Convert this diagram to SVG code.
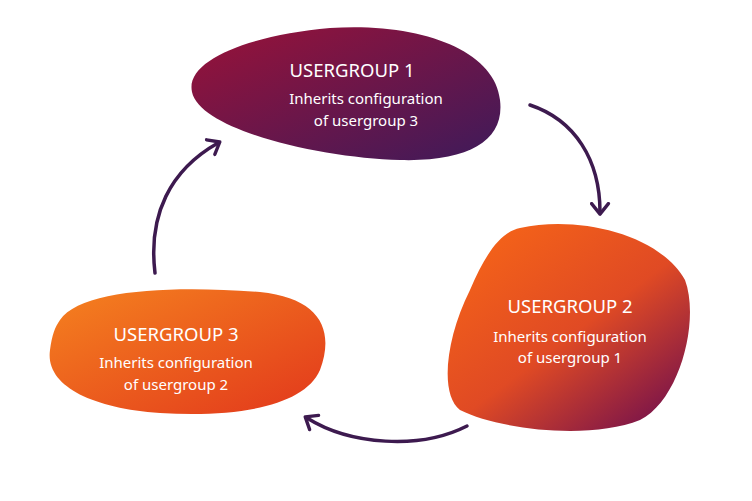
<svg xmlns="http://www.w3.org/2000/svg" width="752" height="501" viewBox="0 0 752 501">
<defs>
<linearGradient id="g1" x1="0" y1="0" x2="1" y2="1"><stop offset="0" stop-color="#9a1238"/><stop offset="1" stop-color="#3e1a5a"/></linearGradient>
<linearGradient id="g2" x1="0.2" y1="0.1" x2="0.9" y2="0.9"><stop offset="0" stop-color="#f2601a"/><stop offset="0.5" stop-color="#e04a24"/><stop offset="1" stop-color="#7e1648"/></linearGradient>
<linearGradient id="g3" x1="0" y1="0" x2="1" y2="1"><stop offset="0" stop-color="#f5821f"/><stop offset="1" stop-color="#e2381c"/></linearGradient>
<marker id="ah" viewBox="0 0 10 10" refX="5" refY="5" markerWidth="6" markerHeight="6" orient="auto-start-reverse"><path d="M1,1 L6,5 L1,9" fill="none" stroke="#3d1a4f" stroke-width="1.6" stroke-linecap="round" stroke-linejoin="round"/></marker>
<style>.t{font-family:"Noto Sans",sans-serif;fill:#fff;text-anchor:middle}.h{font-size:18.5px}.s{font-size:15px}.c{fill:none;stroke:#3d1a4f;stroke-width:3.5;stroke-linecap:round}</style>
</defs>
<g id="usergroup1">
<path d="M192,92 C185,60 250,35 330,28 C420,22 495,50 500,100 C505,140 470,162 400,160 C320,158 200,130 192,92 Z" fill="url(#g1)"/>
<text class="t h" x="352" y="77">USERGROUP 1</text>
<text class="t s" x="366" y="104">Inherits configuration</text>
<text class="t s" x="366" y="126">of usergroup 3</text>
</g>
<g id="usergroup2">
<path d="M520,228 C580,215 660,235 685,280 C700,320 680,400 640,420 C590,440 500,430 460,410 C440,395 445,340 470,290 C485,255 500,232 520,228 Z" fill="url(#g2)"/>
<text class="t h" x="570" y="313">USERGROUP 2</text>
<text class="t s" x="570" y="342">Inherits configuration</text>
<text class="t s" x="570" y="363">of usergroup 1</text>
</g>
<g id="usergroup3">
<path d="M60,320 C80,290 170,285 260,292 C320,298 335,330 320,370 C305,405 240,418 160,413 C90,408 45,385 50,350 C52,335 55,327 60,320 Z" fill="url(#g3)"/>
<text class="t h" x="176" y="341">USERGROUP 3</text>
<text class="t s" x="176" y="368">Inherits configuration</text>
<text class="t s" x="176" y="390">of usergroup 2</text>
</g>
<g id="connectors">
<path class="c" d="M530,105 C575,120 600,160 600,212" marker-end="url(#ah)"/>
<path class="c" d="M467,426 C420,450 350,445 307,418" marker-end="url(#ah)"/>
<path class="c" d="M155,273 C148,215 170,170 218,143" marker-end="url(#ah)"/>
</g>
</svg>
